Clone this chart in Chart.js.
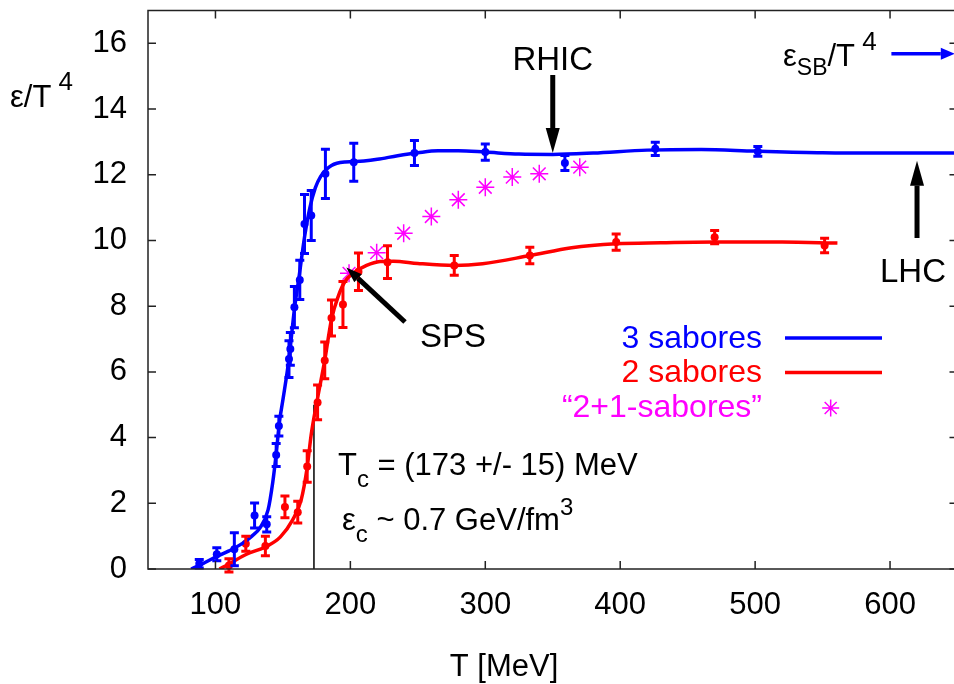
<!DOCTYPE html>
<html>
<head>
<meta charset="utf-8">
<script src="https://cdn.jsdelivr.net/npm/chart.js@4.4.1/dist/chart.umd.min.js"></script>
<style>
  html, body { margin: 0; padding: 0; background: #fff; overflow: hidden; width: 954px; height: 684px; }
  canvas { display: block; }
</style>
</head>
<body>
<canvas id="chart" width="968" height="684"></canvas>
<script>
// eje x / eje y
const xTicks = [100, 200, 300, 400, 500, 600];
const yTicks = [0, 2, 4, 6, 8, 10, 12, 14, 16];

// 3 sabores: datos de la red (T, e/T^4, error)
const blueT = [88, 101, 114, 129, 138, 145, 147, 154.5, 155.5, 158.5, 162.5, 166, 171, 181.5, 202.5, 247.5, 300, 359, 426, 502];
const blueE = [0.16, 0.45, 0.6, 1.63, 1.36, 3.47, 4.35, 6.39, 6.7, 7.97, 8.8, 10.5, 10.76, 12.03, 12.38, 12.66, 12.69, 12.36, 12.79, 12.71];
const blueErr = [0.13, 0.2, 0.5, 0.38, 0.23, 0.35, 0.3, 0.56, 0.5, 0.63, 0.6, 0.9, 0.76, 0.75, 0.58, 0.38, 0.25, 0.23, 0.2, 0.15];

// 3 sabores: curva ajustada
const blueFitT = [82, 90, 100, 110, 120, 127, 133, 139, 142.5, 145, 147.5, 150, 154.5, 158.5, 162, 166, 170, 174, 178, 182, 186, 190, 196, 202, 210, 220, 235, 250, 265, 280, 300, 325, 350, 380, 420, 460, 500, 550, 600, 650];
const blueFitE = [0, 0.15, 0.36, 0.55, 0.78, 1.0, 1.25, 1.8, 2.65, 3.5, 4.5, 5.15, 6.4, 7.9, 8.9, 10.1, 11.0, 11.6, 11.95, 12.15, 12.28, 12.35, 12.39, 12.4, 12.42, 12.47, 12.58, 12.67, 12.73, 12.73, 12.69, 12.63, 12.62, 12.66, 12.75, 12.77, 12.72, 12.67, 12.66, 12.66];

// 2 sabores: datos
const redT = [110, 122.5, 137, 151.5, 161, 168, 175.7, 181, 186, 194.5, 206, 227.5, 277, 333, 397, 470, 551.5];
const redE = [0.11, 0.77, 0.7, 1.89, 1.73, 3.12, 5.07, 6.35, 7.64, 8.05, 9.05, 9.34, 9.24, 9.54, 9.95, 10.1, 9.85];
const redErr = [0.2, 0.23, 0.3, 0.33, 0.33, 0.48, 0.53, 0.56, 0.55, 0.7, 0.57, 0.5, 0.3, 0.25, 0.25, 0.2, 0.22];

// 2 sabores: curva ajustada
const redFitT = [103, 110, 123, 137, 148, 157, 163.5, 168, 171, 175, 181, 186, 191, 196, 202, 212, 222, 232, 250, 277, 298, 333, 364, 397, 430, 470, 520, 561];
const redFitE = [0, 0.15, 0.45, 0.67, 0.97, 1.48, 2.1, 3.1, 4.1, 5.05, 6.35, 7.6, 8.3, 8.75, 9.0, 9.24, 9.36, 9.37, 9.3, 9.24, 9.29, 9.54, 9.78, 9.9, 9.93, 9.95, 9.95, 9.92];

// "2+1-sabores"
const starT = [199, 219.5, 239.5, 260, 280, 300, 320, 340, 370];
const starE = [9.0, 9.63, 10.22, 10.73, 11.24, 11.62, 11.93, 12.03, 12.23];

const BLUE = '#0000ff';
const RED = '#ff0000';
const MAGENTA = '#ff00ff';
const FONT = '"Liberation Sans", Arial, Helvetica, sans-serif';

function pts(xs, ys) {
  return xs.map((x, i) => ({ x, y: ys[i] }));
}

function font(size) {
  return `${size}px ${FONT}`;
}

// texto con subindices / superindices: [texto, dy, tamaño]
function richText(ctx, x, y, parts) {
  let cx = x;
  parts.forEach(([t, dy, size]) => {
    ctx.font = font(size);
    ctx.fillText(t, cx, y + dy);
    cx += ctx.measureText(t).width;
  });
}

function arrow(ctx, x1, y1, x2, y2, width, headLen, headW, color) {
  const ang = Math.atan2(y2 - y1, x2 - x1);
  const bx = x2 - headLen * Math.cos(ang);
  const by = y2 - headLen * Math.sin(ang);
  ctx.save();
  ctx.strokeStyle = color;
  ctx.fillStyle = color;
  ctx.lineWidth = width;
  ctx.beginPath();
  ctx.moveTo(x1, y1);
  ctx.lineTo(bx, by);
  ctx.stroke();
  ctx.beginPath();
  ctx.moveTo(x2, y2);
  ctx.lineTo(bx + headW / 2 * Math.sin(ang), by - headW / 2 * Math.cos(ang));
  ctx.lineTo(bx - headW / 2 * Math.sin(ang), by + headW / 2 * Math.cos(ang));
  ctx.closePath();
  ctx.fill();
  ctx.restore();
}

const frame = {
  id: 'frame',
  beforeDatasetsDraw(chart) {
    const { ctx, scales: { x, y } } = chart;
    ctx.save();
    // linea vertical en Tc
    ctx.strokeStyle = '#000';
    ctx.lineWidth = 1.5;
    ctx.beginPath();
    ctx.moveTo(x.getPixelForValue(173), y.getPixelForValue(0));
    ctx.lineTo(x.getPixelForValue(173), y.getPixelForValue(5.0));
    ctx.stroke();
    ctx.restore();
  },
  afterDatasetsDraw(chart) {
    const { ctx, chartArea: a, scales: { x, y } } = chart;
    ctx.save();

    // barras de error
    const bars = [[blueT, blueE, blueErr, BLUE], [redT, redE, redErr, RED]];
    bars.forEach(([ts, es, errs, color]) => {
      ctx.strokeStyle = color;
      ctx.lineWidth = 3;
      ts.forEach((t, i) => {
        const px = x.getPixelForValue(t);
        const lo = y.getPixelForValue(es[i] - errs[i]);
        const hi = y.getPixelForValue(es[i] + errs[i]);
        ctx.beginPath();
        ctx.moveTo(px, lo); ctx.lineTo(px, hi);
        ctx.moveTo(px - 4.5, lo); ctx.lineTo(px + 4.5, lo);
        ctx.moveTo(px - 4.5, hi); ctx.lineTo(px + 4.5, hi);
        ctx.stroke();
      });
    });

    // marco y marcas hacia dentro
    ctx.strokeStyle = '#222';
    ctx.lineWidth = 1.5;
    ctx.strokeRect(a.left, a.top, a.right - a.left, a.bottom - a.top);
    ctx.beginPath();
    xTicks.forEach((v) => {
      const px = x.getPixelForValue(v);
      ctx.moveTo(px, a.bottom); ctx.lineTo(px, a.bottom - 8);
      ctx.moveTo(px, a.top); ctx.lineTo(px, a.top + 8);
    });
    yTicks.forEach((v) => {
      const py = y.getPixelForValue(v);
      ctx.moveTo(a.left, py); ctx.lineTo(a.left + 8, py);
      ctx.moveTo(a.right, py); ctx.lineTo(a.right - 8, py);
    });
    ctx.stroke();

    // titulos de ejes
    ctx.fillStyle = '#000';
    ctx.textBaseline = 'alphabetic';
    ctx.textAlign = 'left';
    richText(ctx, 10, 107, [['ε/T', 0, 31], [' 4', -17, 26]]);
    ctx.font = font(31);
    ctx.textAlign = 'center';
    ctx.fillText('T [MeV]', 504, 676);
    ctx.textAlign = 'left';

    // RHIC
    const rx = x.getPixelForValue(350);
    ctx.font = font(33);
    ctx.textAlign = 'center';
    ctx.fillText('RHIC', rx, 70);
    ctx.textAlign = 'left';
    arrow(ctx, rx, 75, rx, y.getPixelForValue(12.66), 5, 25, 14, '#000');

    // LHC
    const lx = x.getPixelForValue(620);
    arrow(ctx, lx, 238, lx, y.getPixelForValue(12.43), 5, 25, 14, '#000');
    ctx.font = font(33);
    ctx.fillText('LHC', 880, 282);

    // SPS
    arrow(ctx, 405, 322, x.getPixelForValue(197), y.getPixelForValue(9.18), 5, 16, 11, '#000');
    ctx.font = font(33);
    ctx.fillText('SPS', 420, 347);

    // eSB/T^4
    richText(ctx, 783, 66, [['ε', 0, 31], ['SB', 9, 23], ['/T', 0, 31], [' 4', -16, 26]]);
    arrow(ctx, x.getPixelForValue(601), y.getPixelForValue(15.68), x.getPixelForValue(648), y.getPixelForValue(15.68), 3.5, 14, 12, BLUE);

    // Tc
    richText(ctx, 338, 475, [['T', 0, 31], ['c', 12, 24], [' = (173 +/- 15) MeV', 0, 31]]);
    richText(ctx, 342, 530, [['ε', 0, 31], ['c', 12, 24], [' ~ 0.7 GeV/fm', 0, 31], ['3', -15, 24]]);

    // leyenda
    ctx.textAlign = 'right';
    ctx.textBaseline = 'middle';
    ctx.font = font(32);
    const legend = [['3 sabores', BLUE, 339], ['2 sabores', RED, 373], ['\u201C2+1-sabores\u201D', MAGENTA, 408]];
    legend.forEach(([txt, color, ly]) => {
      ctx.fillStyle = color;
      ctx.fillText(txt, 762, ly);
    });
    ctx.lineWidth = 3.5;
    [[BLUE, 338], [RED, 372.5]].forEach(([color, ly]) => {
      ctx.strokeStyle = color;
      ctx.beginPath();
      ctx.moveTo(785, ly); ctx.lineTo(882, ly);
      ctx.stroke();
    });
    ctx.restore();
  }
};

const ctx = document.getElementById('chart').getContext('2d');
new Chart(ctx, {
  type: 'scatter',
  data: {
    datasets: [
      {
        label: '3 sabores (ajuste)',
        data: pts(blueFitT, blueFitE),
        showLine: true,
        borderColor: BLUE,
        borderWidth: 3.5,
        pointRadius: 0,
        cubicInterpolationMode: 'monotone'
      },
      {
        label: '2 sabores (ajuste)',
        data: pts(redFitT, redFitE),
        showLine: true,
        borderColor: RED,
        borderWidth: 3.5,
        pointRadius: 0,
        cubicInterpolationMode: 'monotone'
      },
      {
        label: '3 sabores',
        data: pts(blueT, blueE),
        pointRadius: 4,
        pointBackgroundColor: BLUE,
        pointBorderWidth: 0
      },
      {
        label: '2 sabores',
        data: pts(redT, redE),
        pointRadius: 4,
        pointBackgroundColor: RED,
        pointBorderWidth: 0
      },
      {
        label: '2+1-sabores',
        data: pts(starT, starE),
        pointStyle: 'star',
        pointRadius: 9,
        pointBorderColor: MAGENTA,
        pointBorderWidth: 1.5
      },
      {
        label: 'leyenda',
        data: [{ x: 556, y: 4.9 }],
        pointStyle: 'star',
        pointRadius: 8.5,
        pointBorderColor: MAGENTA,
        pointBorderWidth: 1.5
      }
    ]
  },
  options: {
    responsive: false,
    animation: false,
    events: [],
    layout: { padding: { top: 10, right: 8, left: 0, bottom: 0 } },
    plugins: { legend: { display: false }, tooltip: { enabled: false } },
    scales: {
      x: {
        type: 'linear',
        min: 50,
        max: 650,
        afterFit: (s) => { s.height = 115; s.paddingLeft = 0; s.paddingRight = 0; },
        afterBuildTicks: (s) => { s.ticks = xTicks.map((v) => ({ value: v })); },
        grid: { display: false, drawTicks: false },
        border: { display: false },
        ticks: { padding: 18, color: '#000', font: { family: FONT, size: 31 } }
      },
      y: {
        min: 0,
        max: 17,
        afterFit: (s) => { s.width = 148; s.paddingTop = 0; s.paddingBottom = 0; },
        afterBuildTicks: (s) => { s.ticks = yTicks.map((v) => ({ value: v })); },
        grid: { display: false, drawTicks: false },
        border: { display: false },
        ticks: { padding: 21, color: '#000', font: { family: FONT, size: 31 } }
      }
    }
  },
  plugins: [frame]
});
</script>
</body>
</html>
